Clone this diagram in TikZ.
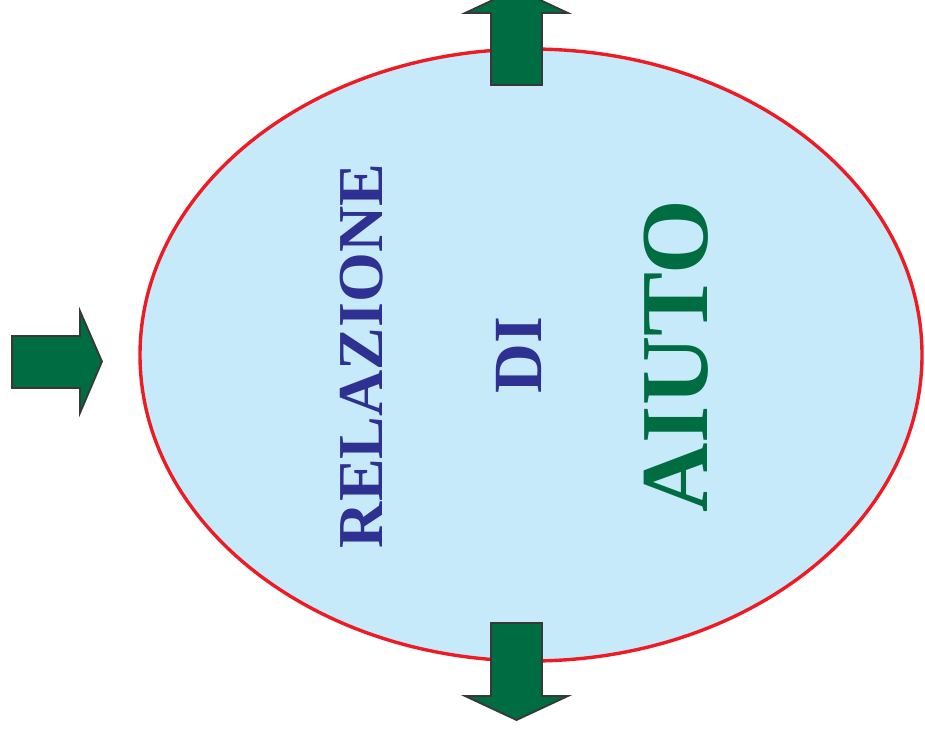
\documentclass[tikz,border=0pt]{standalone}
\usepackage{fontspec}
\setmainfont{Liberation Serif}
\usepackage{xcolor}
\usetikzlibrary{arrows}

\definecolor{cielo}{HTML}{C7EAFA}
\definecolor{rosso}{HTML}{ED1C24}
\definecolor{verde}{HTML}{006C42}
\definecolor{blu}{HTML}{2E3192}
\definecolor{bordo}{HTML}{383838}

\tikzset{
  freccia/.style={fill=verde, draw=bordo, line width=1.8pt, line join=miter},
  scritta/.style={rotate=90, inner sep=0pt, font=\bfseries}
}

\begin{document}
\begin{tikzpicture}[x=1pt,y=-1pt]
    \useasboundingbox (0,0) rectangle (925,735);
    % ellisse
    \draw[fill=cielo, draw=rosso, line width=3.4pt] (531,355) ellipse [x radius=391pt, y radius=306pt];
    % frecce
    \draw[freccia] (491,85) -- (491,13) -- (465,13) -- (516.5,-11)
      -- (568,13) -- (542,13) -- (542,85) -- cycle;
    \draw[freccia] (12,336) -- (80,336) -- (80,311) -- (102,361.5)
      -- (80,413) -- (80,388) -- (12,388) -- cycle;
    \draw[freccia] (491,623) -- (542,623) -- (542,696) -- (568,696)
      -- (516.5,720) -- (465,696) -- (491,696) -- cycle;
    % testo
    \node[scritta, text=blu, font=\bfseries\fontsize{64}{64}\selectfont] (relazione) at (362,356) {RELAZIONE};
    \node[scritta, text=blu, font=\bfseries\fontsize{69}{69}\selectfont] (di) at (519,355) {DI};
    \node[scritta, text=verde, font=\bfseries\fontsize{96}{96}\selectfont] (aiuto) at (676,356) {AIUTO};
\end{tikzpicture}
\end{document}
